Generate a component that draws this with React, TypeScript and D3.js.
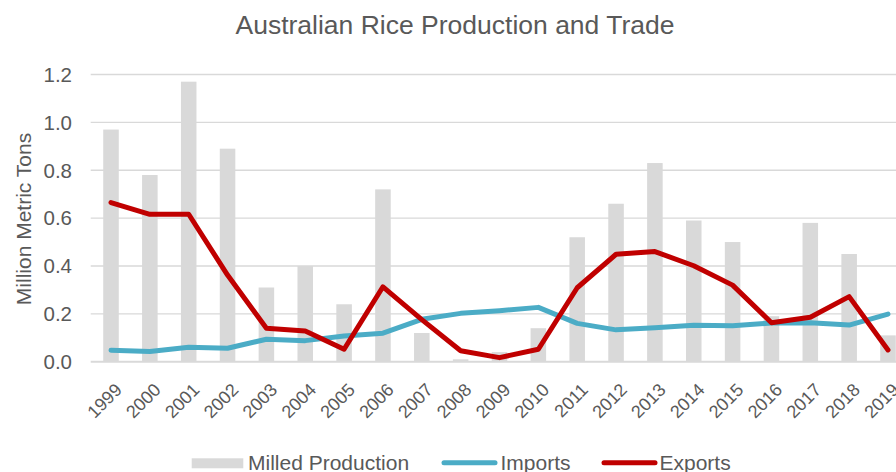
import React from "react";
import * as d3 from "d3";

const years = ["1999","2000","2001","2002","2003","2004","2005","2006","2007","2008","2009","2010","2011","2012","2013","2014","2015","2016","2017","2018","2019"];
const milledProduction = [0.97,0.78,1.17,0.89,0.31,0.40,0.24,0.72,0.12,0.01,0.04,0.14,0.52,0.66,0.83,0.59,0.50,0.19,0.58,0.45,0.11];
const imports = [0.048,0.043,0.060,0.056,0.094,0.088,0.107,0.119,0.177,0.202,0.213,0.227,0.160,0.133,0.142,0.152,0.150,0.162,0.163,0.153,0.199];
const exports_ = [0.665,0.616,0.616,0.362,0.140,0.128,0.052,0.313,0.176,0.046,0.017,0.052,0.309,0.449,0.460,0.401,0.320,0.163,0.186,0.272,0.049];
const yTicks = [0, 0.2, 0.4, 0.6, 0.8, 1.0, 1.2];
const title = "Australian Rice Production and Trade";
const yTitle = "Million Metric Tons";

const W = 896, H = 472;
const FONT = "'Liberation Sans', Arial, sans-serif";
const TEXT = "#595959";
const GRID = "#d9d9d9";
const BAR = "#d9d9d9";
const BLUE = "#4bacc6";
const RED = "#c00000";

export default function App() {
  const step = 38.85;
  const x0 = 111 - step / 2;
  const x = d3.scaleBand<string>().domain(years).range([x0, x0 + step * years.length]).padding(0);
  const cx = (yr: string) => (x(yr) as number) + x.bandwidth() / 2;
  const y = d3.scaleLinear().domain([0, 1.2]).range([361.7, 74.5]);
  const barW = x.bandwidth() * 0.4;

  const line = d3.line<number>().x((_, i) => cx(years[i])).y((v) => y(v));

  const legend = [
    { label: "Milled Production", kind: "bar", color: BAR, sx: 191.7, sw: 51.6, tx: 248 },
    { label: "Imports", kind: "line", color: BLUE, sx: 444, sw: 51, tx: 500.5 },
    { label: "Exports", kind: "line", color: RED, sx: 604, sw: 51, tx: 659.5 },
  ];

  return (
    <svg width={W} height={H} style={{ position: "absolute", left: 0, top: 0, background: "#fff" }} fontFamily={FONT}>
      <rect x={0} y={0} width={W} height={H} fill="#fff" />
      <text x={455} y={34} textAnchor="middle" fontSize={26.5} fill={TEXT}>{title}</text>

      {yTicks.map((t) => (
        <g key={t}>
          {t > 0 && <line x1={90.7} x2={W} y1={y(t)} y2={y(t)} stroke={GRID} strokeWidth={1.4} />}
          <text x={72} y={y(t)} dy="0.36em" textAnchor="end" fontSize={20.5} fill={TEXT}>{t.toFixed(1)}</text>
        </g>
      ))}

      <text transform={`translate(31,219) rotate(-90)`} textAnchor="middle" fontSize={21} fill={TEXT}>{yTitle}</text>

      {milledProduction.map((v, i) => (
        <rect key={years[i]} x={cx(years[i]) - barW / 2} width={barW} y={y(v)} height={y(0) - y(v)} fill={BAR} />
      ))}

      <line x1={90.7} x2={W} y1={y(0)} y2={y(0)} stroke={GRID} strokeWidth={2} />

      <path d={line(imports) || ""} fill="none" stroke={BLUE} strokeWidth={5} strokeLinejoin="round" strokeLinecap="round" />
      <path d={line(exports_) || ""} fill="none" stroke={RED} strokeWidth={5} strokeLinejoin="round" strokeLinecap="round" />

      {years.map((yr) => (
        <text key={yr} transform={`translate(${cx(yr) + 12},391) rotate(-45)`} textAnchor="end" fontSize={18} fill={TEXT}>{yr}</text>
      ))}

      {legend.map((l) => (
        <g key={l.label}>
          {l.kind === "bar" ? (
            <rect x={l.sx} y={458.3} width={l.sw} height={10} fill={l.color} />
          ) : (
            <line x1={l.sx} x2={l.sx + l.sw} y1={462.7} y2={462.7} stroke={l.color} strokeWidth={5} strokeLinecap="round" />
          )}
          <text x={l.tx} y={470} fontSize={21} fill={TEXT}>{l.label}</text>
        </g>
      ))}
    </svg>
  );
}
